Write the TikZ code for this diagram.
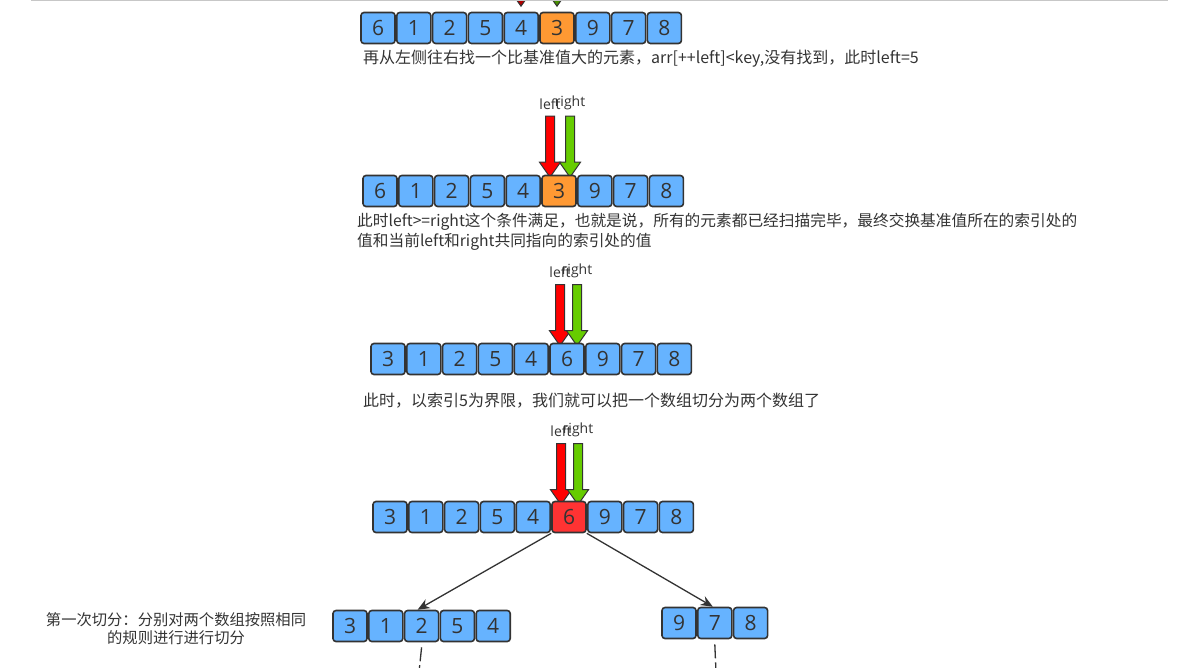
\documentclass[tikz,border=0pt]{standalone}
\usepackage{fontspec}
\setmainfont{Noto Sans CJK SC}
\newfontfamily\numfont{Open Sans}
\usetikzlibrary{shapes.arrows,positioning,arrows.meta}

\definecolor{cellblue}{HTML}{66B3FF}
\definecolor{pivotorange}{HTML}{FF9933}
\definecolor{pivotred}{HTML}{FF3333}
\definecolor{leftred}{HTML}{FF0000}
\definecolor{rightgreen}{HTML}{66CC00}
\definecolor{edge}{HTML}{333333}

\tikzset{
    cell/.style={draw=edge, line width=1.6pt, rounded corners=3pt, fill=cellblue,
        minimum width=34pt, minimum height=31pt, inner sep=0pt,
        font=\numfont\fontsize{21}{21}\selectfont, text=edge},
    ptr/.style={single arrow, draw=edge, line width=1pt, rotate=-90,
        inner sep=4pt, inner xsep=0pt, single arrow head extend=6pt,
        single arrow tip angle=70, minimum height=61pt},
    lbl/.style={font=\numfont\fontsize{14}{14}\selectfont, text=edge, inner sep=1pt},
    note/.style={font=\fontsize{16}{20}\selectfont, text=edge, align=left, inner sep=0pt},
    link/.style={draw=edge, line width=1.3pt, -{Stealth[length=12pt,width=10pt]}}
}

\begin{document}
\begin{tikzpicture}[x=1pt,y=-1pt]
    \useasboundingbox (0,0) rectangle (1185,667);

    % step 1
    \node[ptr, fill=leftred!70!black] (la) at (521,-27.5) {};
    \node[ptr, fill=rightgreen!70!black] (ra) at (557,-27.5) {};
    \draw[black!22, line width=1.2pt] (31,0.6) -- (1168,0.6);
    \foreach \v/\c [count=\i] in {6/cellblue,1/cellblue,2/cellblue,5/cellblue,4/cellblue,3/pivotorange,9/cellblue,7/cellblue,8/cellblue}
        \node[cell, fill=\c] (a\i) at ({378+(\i-1)*35.8},28) {\v};
    \node[note, anchor=west] (ta) at (363,59) {再从左侧往右找一个比基准值大的元素，arr[++left]<key,没有找到，此时left=5};

    % step 2
    \node[ptr, fill=leftred] (lb) at (550,143.5) {};
    \node[ptr, fill=rightgreen] (rb) at (570,143.5) {};
    \node[lbl, above=5pt of lb.tail] (tlb) {left};
    \node[lbl, above=5pt of rb.tail] (trb) {right};
    \foreach \v/\c [count=\i] in {6/cellblue,1/cellblue,2/cellblue,5/cellblue,4/cellblue,3/pivotorange,9/cellblue,7/cellblue,8/cellblue}
        \node[cell, fill=\c] (b\i) at ({380+(\i-1)*35.8},191) {\v};
    \node[note, anchor=west, font=\fontsize{15.7}{20}\selectfont] (tb) at (357,232) {此时left>=right这个条件满足，也就是说，所有的元素都已经扫描完毕，最终交换基准值所在的索引处的\\值和当前left和right共同指向的索引处的值};

    % step 3
    \node[ptr, fill=leftred] (lc) at (560,312) {};
    \node[ptr, fill=rightgreen] (rc) at (577,312) {};
    \node[lbl, above=5pt of lc.tail] (tlc) {left};
    \node[lbl, above=5pt of rc.tail] (trc) {right};
    \foreach \v [count=\i] in {3,1,2,5,4,6,9,7,8}
        \node[cell] (c\i) at ({388+(\i-1)*35.8},359) {\v};
    \node[note, anchor=west] (tc) at (363,401) {此时，以索引5为界限，我们就可以把一个数组切分为两个数组了};

    % step 4
    \node[ptr, fill=leftred] (ld) at (561,471) {};
    \node[ptr, fill=rightgreen] (rd) at (578,471) {};
    \node[lbl, above=5pt of ld.tail] (tld) {left};
    \node[lbl, above=5pt of rd.tail] (trd) {right};
    \foreach \v/\c [count=\i] in {3/cellblue,1/cellblue,2/cellblue,5/cellblue,4/cellblue,6/pivotred,9/cellblue,7/cellblue,8/cellblue}
        \node[cell, fill=\c] (d\i) at ({390+(\i-1)*35.8},517) {\v};

    % first split
    \foreach \v [count=\i] in {3,1,2,5,4}
        \node[cell] (l\i) at ({350+(\i-1)*35.8},626) {\v};
    \foreach \v [count=\i] in {9,7,8}
        \node[cell] (r\i) at ({679+(\i-1)*35.8},623) {\v};
    \draw[link] (d6.south west) -- ([xshift=-4pt]l3.north);
    \draw[link] (d6.south east) -- ([xshift=-2pt]r2.north);
    \coordinate (lend) at (419,672);
    \coordinate (rend) at (716,672);
    \draw[edge, line width=1.3pt, dash pattern=on 14pt off 4pt] ([yshift=-5pt]l3.south) -- (lend);
    \draw[edge, line width=1.3pt, dash pattern=on 14pt off 4pt] ([yshift=-5pt]r2.south) -- (rend);
    \node[note, align=center, font=\fontsize{15.3}{18}\selectfont] (te) at (176,629) {第一次切分：分别对两个数组按照相同\\的规则进行进行切分};
\end{tikzpicture}
\end{document}
